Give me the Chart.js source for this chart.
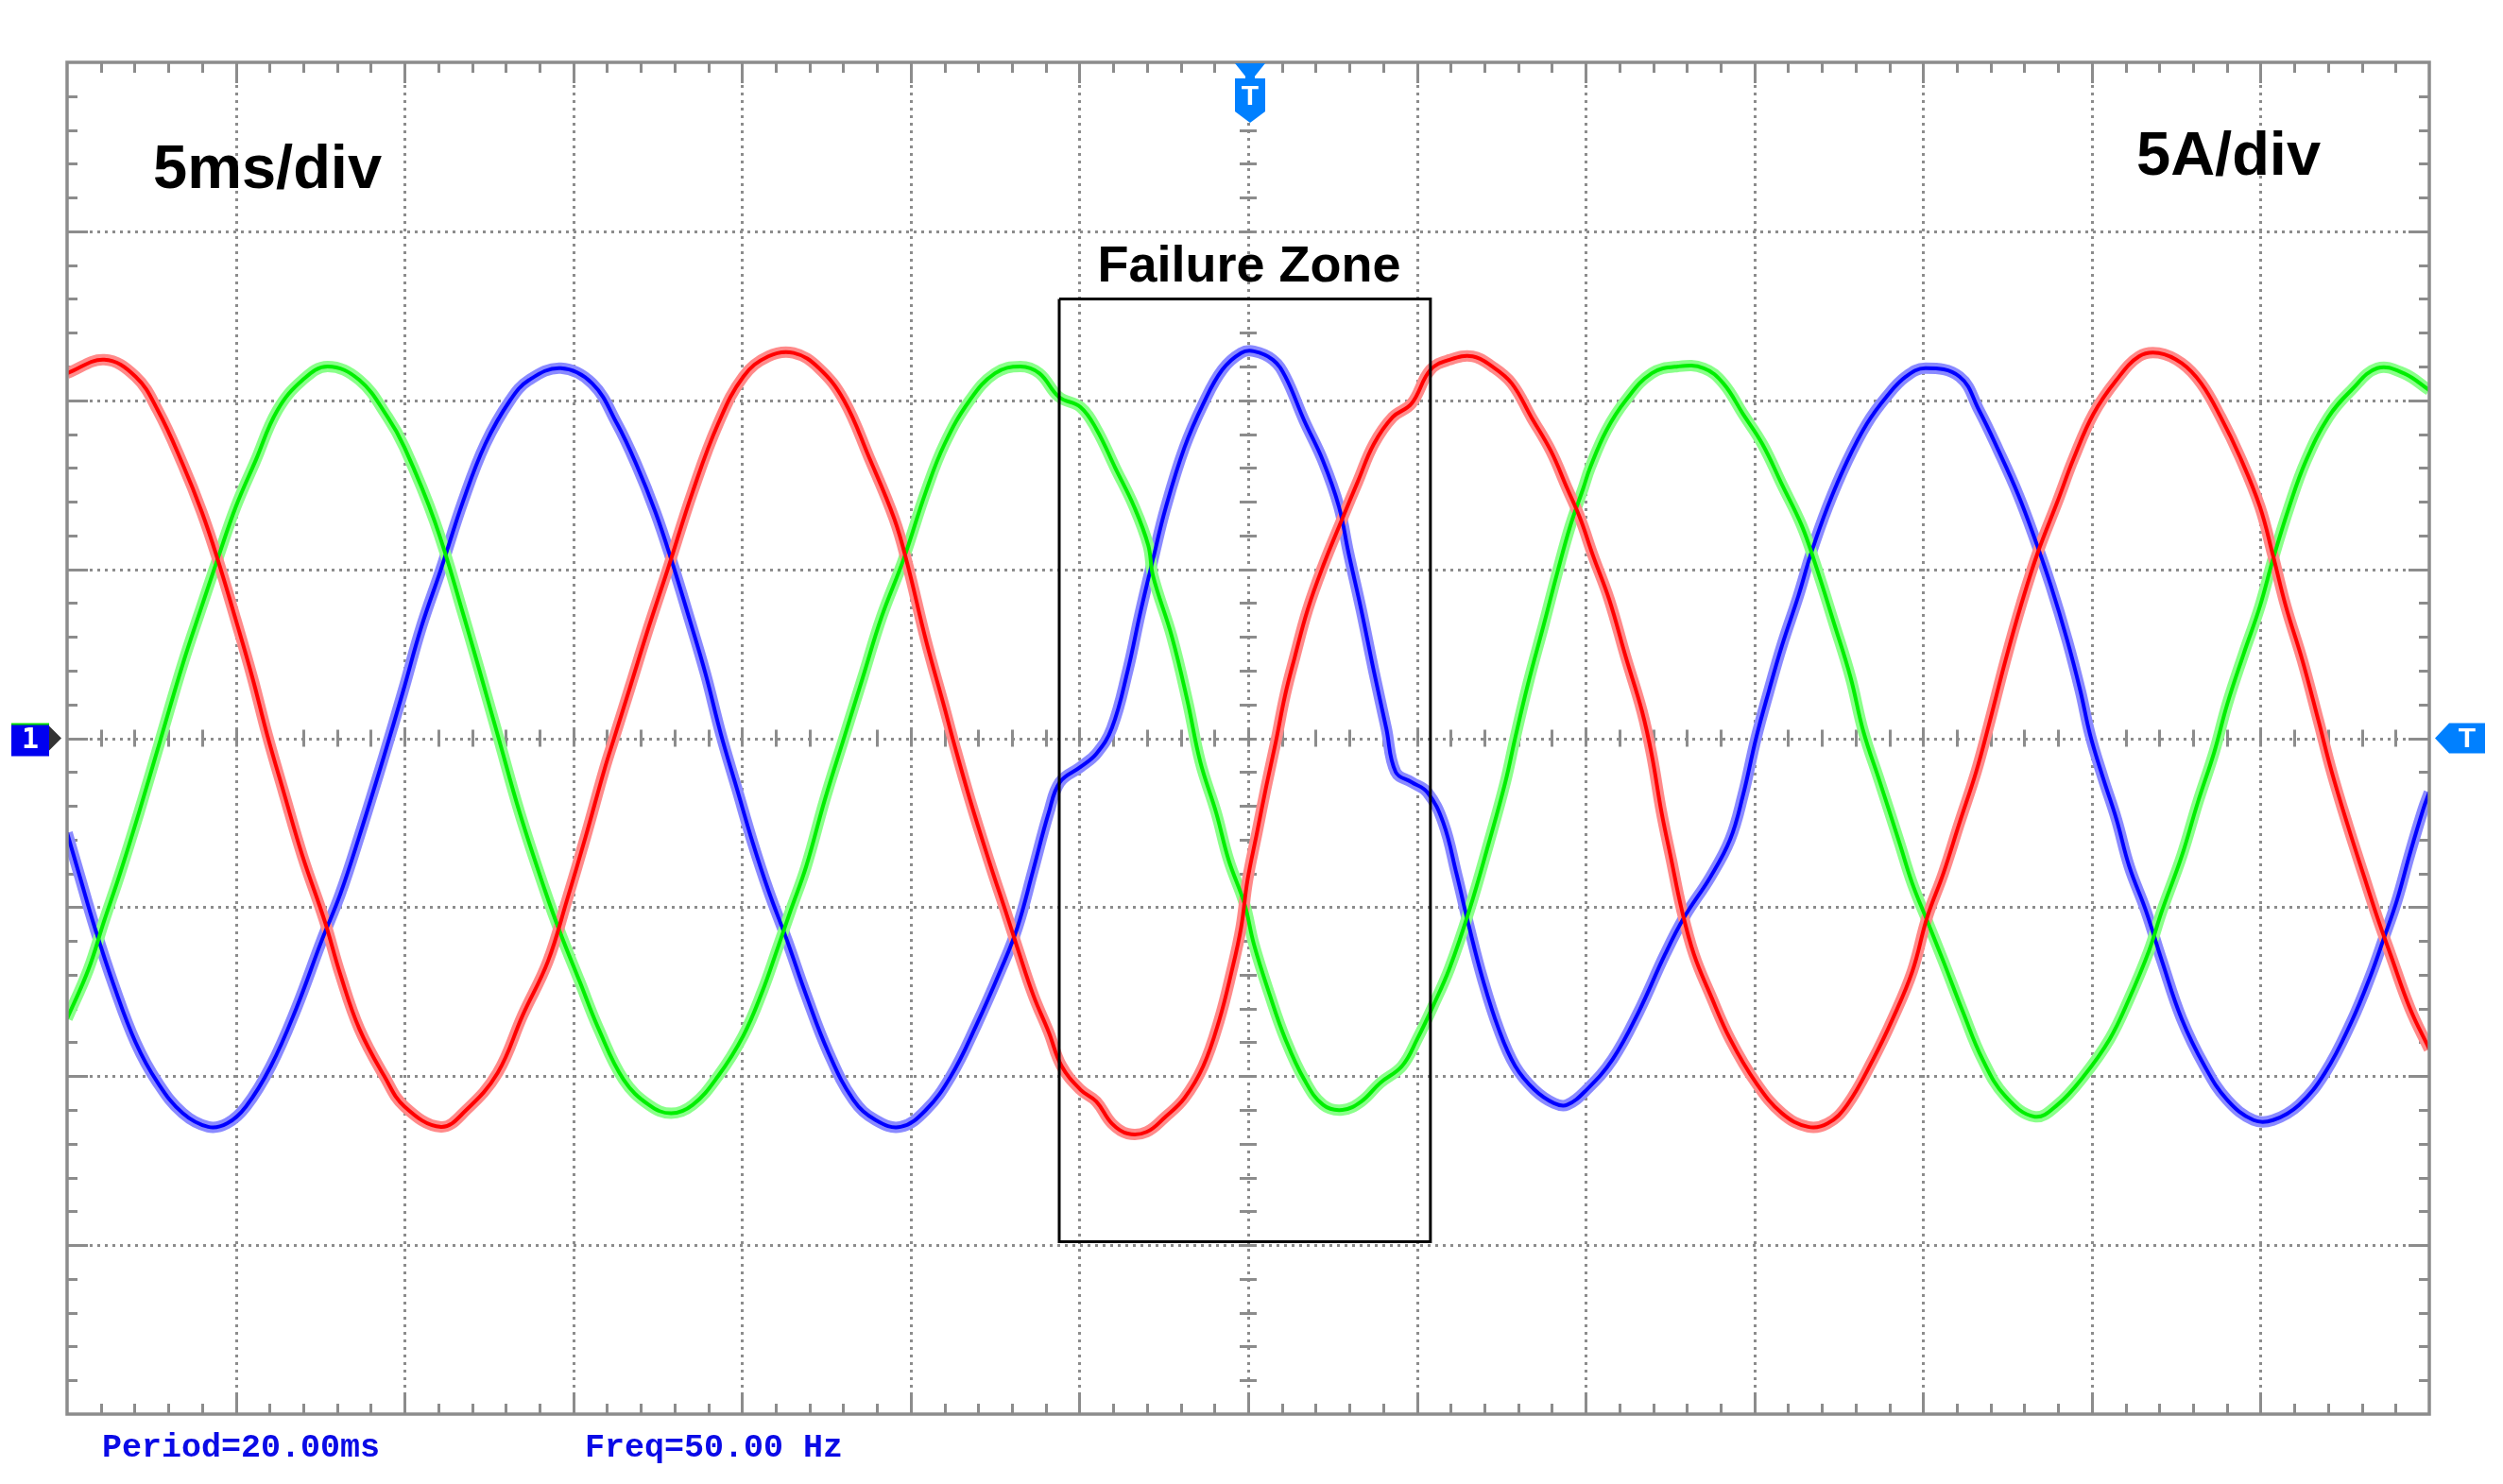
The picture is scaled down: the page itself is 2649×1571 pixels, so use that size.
<!DOCTYPE html>
<html>
<head>
<meta charset="utf-8">
<script src="https://cdn.jsdelivr.net/npm/chart.js@4.4.1/dist/chart.umd.min.js"></script>
<style>
	html, body { margin: 0; padding: 0; background: #fff; }
	#wrap { width: 2649px; height: 1571px; position: relative; }
</style>
</head>
<body>
<div id="wrap"><canvas id="scope"></canvas></div>
<script>
// time in ms, current in A (5 ms/div, 5 A/div, 14 x 8 divisions)
const redTime = [0, 1.1, 2.03, 2.69, 3.43, 3.99, 4.46, 5.0, 5.49, 5.93, 6.42, 6.98, 7.63, 8.1, 8.66, 9.4, 10.0, 11.08, 11.83, 12.76, 13.5,
	14.25, 14.81, 15.37, 15.93, 16.21, 16.68, 17.24, 17.8, 18.54, 19.29, 20.04, 20.78, 21.53, 22.28, 23.02, 23.77, 24.51, 24.89, 25.45, 26.0, 26.24, 26.75, 27.31, 27.87,
	28.16, 28.63, 29.09, 29.47, 30.03, 30.5, 30.96, 31.43, 31.99, 32.55, 33.11, 33.67, 34.14, 34.51, 34.79, 34.98, 35.26, 35.54, 35.82, 36.1, 36.38, 36.76, 37.22, 37.79, 38.25, 38.72, 39.28, 39.84,
	40.4, 40.97, 41.65, 42.23, 42.81, 43.39, 43.97, 44.45, 44.84, 45.22, 45.7, 46.19, 46.67, 46.96, 47.25, 47.54, 47.83, 48.21, 48.7, 49.28, 50.05, 50.82, 51.59, 52.17, 52.75, 53.52, 54.1, 54.68,
	55.12, 55.6, 56.08, 56.57, 56.95, 57.44, 57.92, 58.4, 58.98, 59.47, 60.05, 60.73, 61.4, 61.98, 62.66, 63.24, 63.82, 64.4, 64.98, 65.37, 65.75, 66.24, 66.72, 67.11, 67.59, 68.07, 68.46, 68.85, 69.43, 70];
const redCurrent = [10.8, 11.2, 10.7, 9.7, 8.1, 6.7, 5.3, 3.5, 1.8, 0.1, -1.6, -3.5, -5.4, -7.0, -8.6, -10.0, -10.9, -11.5, -11.0, -9.9, -8.2,
	-6.6, -4.8, -2.9, -0.9, 0, 1.5, 3.3, 5.0, 7.3, 9.3, 10.7, 11.3, 11.4, 10.95, 10.0, 8.3, 6.5, 5.2, 2.9, 0.9, 0, -1.8, -3.6, -5.3,
	-6.2, -7.6, -8.7, -9.7, -10.4, -10.75, -11.4, -11.7, -11.65, -11.2, -10.65, -9.7, -8.35, -6.9, -5.6, -4.2, -2.8, -1.4, -0.1, 1.3, 2.4, 3.8, 5.1, 6.5, 7.6, 8.7, 9.5, 9.9,
	10.9, 11.2, 11.3, 11.0, 10.5, 9.5, 8.5, 7.4, 6.5, 5.4, 4.1, 2.4, 0.8, -0.5, -2.2, -3.6, -5.0, -6.4, -7.6, -8.9, -10.2, -11.1, -11.5, -11.4, -10.85, -9.5, -8.3, -6.9,
	-5.3, -4.0, -2.5, -1.0, 0.4, 2.3, 4.0, 5.5, 7.0, 8.3, 9.6, 10.6, 11.3, 11.4, 11.1, 10.5, 9.5, 8.3, 6.85, 5.4, 3.9, 2.3, 0.5, -1.0, -2.6, -4.1, -5.3, -6.4, -8.0, -9.2];

const greenTime = [0, 0.63, 1.1, 1.57, 2.13, 2.78, 3.43, 3.99, 4.46, 5.0, 5.58, 6.23, 6.98, 7.72, 8.66, 9.5, 10.0, 10.9, 11.73, 12.76, 13.41,
	14.16, 14.63, 15.19, 15.75, 16.49, 17.24, 17.9, 18.54, 19.29, 20.04, 20.6, 21.06, 21.44, 21.9, 22.46, 23.02, 23.58, 24.14, 24.79, 25.45, 26.0, 26.75, 27.5,
	28.25, 28.81, 29.39, 30.03, 30.5, 31.06, 31.62, 32.04, 32.18, 32.74, 33.2, 33.58, 34.05, 34.42, 34.89, 35.17, 35.64, 36.1, 36.66, 37.22, 37.79, 38.35, 38.91, 39.56,
	40.01, 40.49, 40.97, 41.55, 42.13, 42.62, 42.91, 43.29, 43.77, 44.16, 44.55, 44.93, 45.13, 45.61, 46.19, 46.96, 47.73, 48.5, 49.08, 49.66, 50.24, 50.82, 51.4, 51.79, 52.36, 52.85, 53.23, 53.72, 54.3, 54.68,
	55.12, 55.6, 56.18, 56.76, 57.44, 58.31, 58.98, 59.76, 60.53, 61.11, 61.69, 62.08, 62.66, 63.14, 63.63, 64.01, 64.5, 64.98, 65.37, 65.85, 66.34, 67.01, 67.69, 68.46, 69.24, 70];
const greenCurrent = [-8.3, -6.85, -5.4, -4.0, -2.2, 0, 2.2, 3.9, 5.3, 6.85, 8.2, 9.7, 10.6, 11.0, 10.6, 9.5, 8.6, 6.4, 3.7, 0.1, -2.2,
	-4.5, -5.8, -7.2, -8.6, -10.1, -10.85, -11.1, -10.85, -10.0, -8.8, -7.5, -6.2, -5.1, -3.8, -1.8, 0, 1.8, 3.6, 5.3, 7.3, 8.7, 10.0, 10.8,
	11.0, 10.8, 10.1, 9.8, 9.15, 8.0, 6.85, 5.7, 4.8, 3.0, 1.1, -0.7, -2.2, -3.6, -4.9, -6.1, -7.6, -8.9, -10.1, -10.85, -11.0, -10.75, -10.2, -9.7,
	-8.9, -7.9, -6.8, -5.1, -3.1, -1.3, 0, 1.6, 3.4, 4.9, 6.3, 7.4, 8.0, 9.1, 10.0, 10.8, 11.0, 10.95, 10.5, 9.6, 8.7, 7.5, 6.3, 5.2, 3.4, 1.8, 0.2, -1.3, -3.1, -4.3,
	-5.4, -6.6, -8.1, -9.5, -10.6, -11.2, -10.85, -10.0, -8.9, -7.7, -6.3, -5.1, -3.5, -1.9, -0.4, 1.0, 2.5, 3.9, 5.3, 6.85, 8.2, 9.5, 10.3, 10.95, 10.8, 10.3];

const blueTime = [0, 0.35, 0.82, 1.38, 2.03, 2.69, 3.43, 4.18, 4.74, 5.3, 6.04, 6.79, 7.54, 8.1, 8.66, 9.4, 9.96, 10.5, 11.08, 11.73, 12.39, 13.13, 13.69,
	14.63, 15.56, 16.3, 16.87, 17.43, 17.9, 18.45, 18.92, 19.38, 19.85, 20.32, 20.78, 21.34, 21.9, 22.56, 23.3, 23.96, 24.7, 25.45, 26.19, 26.94, 27.69,
	28.16, 28.63, 29.09, 29.42, 30.03, 30.5, 30.96, 31.43, 31.8, 32.18, 32.55, 33.11, 33.67, 34.23, 34.79, 35.17, 35.73, 36.1, 36.66, 37.22, 37.69, 37.97, 38.35, 38.72, 39.09, 39.37, 39.84, 40.31,
	40.78, 41.17, 41.55, 41.94, 42.42, 42.91, 43.48, 44.06, 44.45, 45.03, 45.8, 46.57, 47.35, 47.92, 48.7, 49.28, 49.66, 50.05, 50.43, 50.82, 51.3, 51.69, 52.17, 52.75, 53.33, 53.91, 54.49, 55.07,
	56.08, 56.66, 57.24, 57.82, 58.31, 58.79, 59.27, 59.66, 59.95, 60.34, 60.73, 61.11, 61.6, 62.08, 62.66, 63.34, 64.01, 64.79, 65.37, 66.14, 66.91, 67.69, 68.27, 68.66, 69.04, 69.43, 69.82, 70];
const blueCurrent = [-2.8, -4.0, -5.6, -7.3, -9.0, -10.2, -11.1, -11.5, -11.4, -10.9, -9.7, -8.0, -6.0, -4.6, -2.9, -0.5, 1.4, 3.3, 5.0, 7.0, 8.7, 10.0, 10.6,
	10.95, 10.5, 9.3, 8.1, 6.7, 5.3, 3.5, 1.9, 0.1, -1.5, -3.1, -4.5, -6.0, -7.6, -9.3, -10.7, -11.3, -11.5, -11.0, -10.0, -8.5, -6.8,
	-5.6, -3.9, -2.2, -1.3, -0.85, -0.46, 0.3, 2.0, 3.7, 5.3, 6.8, 8.6, 9.9, 10.9, 11.4, 11.45, 11.2, 10.7, 9.4, 8.2, 6.85, 5.5, 3.8, 2.0, 0.3, -1.0, -1.3, -1.6,
	-2.5, -4.0, -5.6, -7.1, -8.6, -9.7, -10.4, -10.8, -10.85, -10.4, -9.5, -8.1, -6.4, -5.3, -4.1, -3.0, -1.7, 0, 1.4, 2.75, 4.2, 5.5, 6.85, 8.2, 9.3, 10.1, 10.7, 10.95,
	10.7, 9.7, 8.5, 7.2, 5.9, 4.5, 2.9, 1.4, 0.1, -1.2, -2.4, -3.8, -5.1, -6.6, -8.3, -9.7, -10.7, -11.3, -11.3, -10.85, -9.9, -8.4, -7.0, -5.9, -4.8, -3.4, -2.1, -1.6];

const failureZoneTime = [29.4, 40.4, 40.4, 29.4, 29.4];
const failureZoneCurrent = [13.0, 13.0, -14.9, -14.9, 13.0];

const timeRange = [0, 70]; // ms
const currentRange = [-20, 20]; // A
const divStep = { time: 5, current: 5 };
const labels = { time: '5ms/div', current: '5A/div', zone: 'Failure Zone', period: 'Period=20.00ms', freq: 'Freq=50.00 Hz' };

const toPoints = (xs, ys) => xs.map((t, i) => ({ x: t, y: ys[i] }));

const gridColor = '#8c8c8c';

function trace(data, color, width, order) {
	return {
		data: data,
		borderColor: color,
		borderWidth: width,
		pointRadius: 0,
		tension: 0.4,
		fill: false,
		order: order,
	};
}

const scopeScreen = {
	id: 'scopeScreen',
	beforeDatasetsDraw(chart) {
		const { ctx, chartArea } = chart;
		const { left, right, top, bottom } = chartArea;
		const xs = chart.scales.x, ys = chart.scales.y;
		ctx.save();
		// dotted division grid
		ctx.strokeStyle = gridColor;
		ctx.lineWidth = 3;
		ctx.setLineDash([3, 5]);
		for (let t = timeRange[0] + divStep.time; t < timeRange[1]; t += divStep.time) {
			const px = Math.round(xs.getPixelForValue(t)) + 0.5;
			ctx.beginPath(); ctx.moveTo(px, top); ctx.lineTo(px, bottom); ctx.stroke();
		}
		for (let a = currentRange[0] + divStep.current; a < currentRange[1]; a += divStep.current) {
			const py = Math.round(ys.getPixelForValue(a)) + 0.5;
			ctx.beginPath(); ctx.moveTo(left, py); ctx.lineTo(right, py); ctx.stroke();
		}
		ctx.setLineDash([]);
		// minor ticks on frame and centre cross
		const cx = xs.getPixelForValue((timeRange[0] + timeRange[1]) / 2);
		const cy = ys.getPixelForValue(0);
		ctx.beginPath();
		for (let t = timeRange[0] + 1; t < timeRange[1]; t++) {
			const px = Math.round(xs.getPixelForValue(t)) + 0.5;
			const len = t % divStep.time === 0 ? 22 : 11;
			ctx.moveTo(px, top); ctx.lineTo(px, top + len);
			ctx.moveTo(px, bottom); ctx.lineTo(px, bottom - len);
			ctx.moveTo(px, cy - 9); ctx.lineTo(px, cy + 9);
		}
		for (let a = currentRange[0] + 1; a < currentRange[1]; a++) {
			const py = Math.round(ys.getPixelForValue(a)) + 0.5;
			const len = a % divStep.current === 0 ? 22 : 11;
			ctx.moveTo(left, py); ctx.lineTo(left + len, py);
			ctx.moveTo(right, py); ctx.lineTo(right - len, py);
			ctx.moveTo(cx - 9, py); ctx.lineTo(cx + 9, py);
		}
		ctx.stroke();
		ctx.restore();
	},
	afterDatasetsDraw(chart) {
		const { ctx, chartArea } = chart;
		const { left, right, top, bottom } = chartArea;
		const xs = chart.scales.x, ys = chart.scales.y;
		const cx = xs.getPixelForValue((timeRange[0] + timeRange[1]) / 2);
		const cy = ys.getPixelForValue(0);
		ctx.save();
		// frame
		ctx.strokeStyle = gridColor;
		ctx.lineWidth = 3.5;
		ctx.strokeRect(left, top, right - left, bottom - top);

		// channel 1 marker
		ctx.fillStyle = '#00e000';
		ctx.fillRect(left - 59, cy - 16, 40, 3);
		ctx.fillStyle = '#0000f0';
		ctx.fillRect(left - 59, cy - 14, 40, 33);
		ctx.fillStyle = '#333';
		ctx.beginPath();
		ctx.moveTo(left - 19, cy - 13); ctx.lineTo(left - 6, cy); ctx.lineTo(left - 19, cy + 13);
		ctx.closePath(); ctx.fill();
		ctx.fillStyle = '#fff';
		ctx.font = 'bold 30px "DejaVu Sans Mono"';
		ctx.textAlign = 'center'; ctx.textBaseline = 'middle';
		ctx.fillText('1', left - 39, cy + 3);

		// trigger level marker (right)
		ctx.fillStyle = '#0080ff';
		ctx.beginPath();
		ctx.moveTo(right + 6, cy); ctx.lineTo(right + 21, cy - 16); ctx.lineTo(right + 59, cy - 16);
		ctx.lineTo(right + 59, cy + 16); ctx.lineTo(right + 21, cy + 16);
		ctx.closePath(); ctx.fill();
		ctx.fillStyle = '#fff';
		ctx.font = 'bold 30px "Liberation Sans"';
		ctx.fillText('T', right + 40, cy + 1);

		// trigger position marker (top)
		const tx = cx + 2;
		ctx.fillStyle = '#0080ff';
		ctx.beginPath();
		ctx.moveTo(tx - 16, top + 1); ctx.lineTo(tx + 16, top + 1); ctx.lineTo(tx + 4, top + 16); ctx.lineTo(tx - 4, top + 16);
		ctx.closePath(); ctx.fill();
		ctx.fillRect(tx - 5, top + 15, 10, 4);
		ctx.beginPath();
		ctx.moveTo(tx - 16, top + 17); ctx.lineTo(tx + 16, top + 17); ctx.lineTo(tx + 16, top + 52);
		ctx.lineTo(tx, top + 64); ctx.lineTo(tx - 16, top + 52);
		ctx.closePath(); ctx.fill();
		ctx.fillStyle = '#fff';
		ctx.fillText('T', tx, top + 37);

		// scale labels
		ctx.fillStyle = '#000';
		ctx.textBaseline = 'alphabetic';
		ctx.font = 'bold 65px "Liberation Sans"';
		ctx.textAlign = 'left';
		ctx.fillText(labels.time, left + 91, top + 133);
		ctx.fillText(labels.current, right - 310, top + 119);
		ctx.font = 'bold 54px "Liberation Sans"';
		ctx.textAlign = 'center';
		ctx.fillText(labels.zone, cx + 1, top + 232);

		// measurements
		ctx.fillStyle = '#0a0ae6';
		ctx.font = 'bold 35px "Liberation Mono"';
		ctx.textAlign = 'left';
		ctx.fillText(labels.period, left + 37, bottom + 45);
		ctx.fillText(labels.freq, left + 548, bottom + 45);
		ctx.restore();
	},
};

new Chart(document.getElementById('scope'), {
	type: 'line',
	data: {
		datasets: [
			{
				data: toPoints(failureZoneTime, failureZoneCurrent),
				borderColor: '#000',
				borderWidth: 3,
				pointRadius: 0,
				tension: 0,
				fill: false,
				order: 0,
			},
			trace(toPoints(redTime, redCurrent), '#ff0000', 4, 1),
			trace(toPoints(greenTime, greenCurrent), '#00ee00', 4, 1),
			trace(toPoints(blueTime, blueCurrent), '#0000ff', 4, 1),
			trace(toPoints(redTime, redCurrent), '#ff8a8a', 12, 2),
			trace(toPoints(greenTime, greenCurrent), '#8aff8a', 12, 2),
			trace(toPoints(blueTime, blueCurrent), '#8a8aff', 12, 2),
		],
	},
	plugins: [scopeScreen],
	options: {
		responsive: true,
		maintainAspectRatio: false,
		animation: false,
		layout: { padding: { left: 71, right: 78, top: 66, bottom: 74 } },
		plugins: {
			legend: { display: false },
			tooltip: { enabled: false },
		},
		scales: {
			x: { type: 'linear', min: timeRange[0], max: timeRange[1], display: false },
			y: { type: 'linear', min: currentRange[0], max: currentRange[1], display: false },
		},
	},
});
</script>
</body>
</html>
